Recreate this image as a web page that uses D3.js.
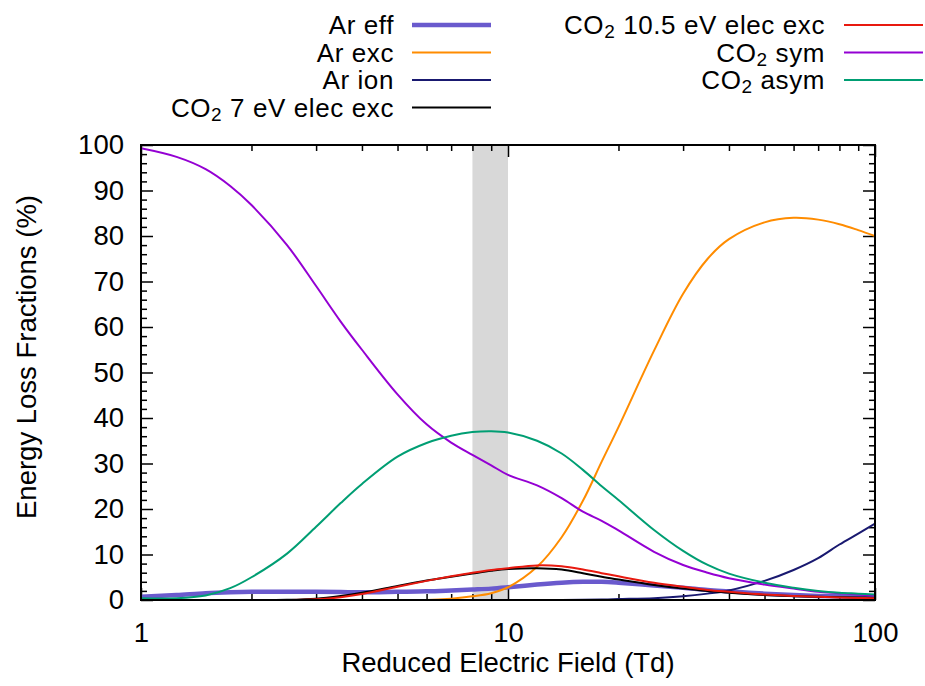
<!DOCTYPE html>
<html>
<head>
<meta charset="utf-8">
<script src="https://cdn.jsdelivr.net/npm/d3@7"></script>
<style>
  body { margin: 0; background: #fff; }
  svg text { font-family: "Liberation Sans", Arial, sans-serif; fill: #000; }
</style>
</head>
<body>
<div id="chart"></div>
<script>
// reduced electric field (Td), shared by every curve
const fieldTd = [1, 1.25, 1.5, 1.75, 2, 2.5, 3, 3.5, 4, 5, 6, 7, 8, 9, 10, 12, 14, 16, 18, 20, 25, 30, 35, 40, 50, 60, 70, 80, 90, 100];

// energy loss fractions (%)
const arEff  = [0.7, 1.1, 1.5, 1.7, 1.8, 1.8, 1.8, 1.75, 1.7, 1.8, 1.9, 2.1, 2.3, 2.5, 2.8, 3.4, 3.8, 4.0, 4.0, 3.8, 3.2, 2.7, 2.2, 1.9, 1.4, 1.1, 0.9, 0.8, 0.7, 0.65];
const arExc  = [0, 0, 0, 0, 0, 0, 0, 0, 0, 0, 0, 0.3, 0.8, 1.5, 2.8, 7.3, 13.8, 21.8, 30.4, 38.0, 54.8, 67.3, 75.0, 79.3, 83.0, 84.0, 83.6, 82.6, 81.3, 80.0];
const arIon  = [0, 0, 0, 0, 0, 0, 0, 0, 0, 0, 0, 0, 0, 0, 0, 0, 0, 0.05, 0.1, 0.2, 0.4, 0.8, 1.4, 2.1, 4.2, 6.6, 9.2, 12.2, 14.6, 16.8];
const co2e7  = [0, 0, 0, 0, 0, 0.05, 0.3, 0.9, 1.6, 3.1, 4.3, 5.1, 5.8, 6.4, 6.8, 7.0, 6.7, 5.9, 5.1, 4.5, 3.3, 2.5, 2.0, 1.6, 1.1, 0.85, 0.7, 0.6, 0.55, 0.5];
const co2e10 = [0, 0, 0, 0, 0, 0, 0.15, 0.6, 1.3, 2.9, 4.2, 5.2, 6.0, 6.6, 7.0, 7.6, 7.4, 6.7, 5.9, 5.2, 3.8, 2.9, 2.2, 1.8, 1.2, 0.9, 0.7, 0.55, 0.45, 0.4];
const co2Sym = [99.3, 97.4, 94.7, 91.0, 86.8, 78.0, 69.0, 61.2, 55.0, 45.2, 38.6, 34.6, 31.9, 29.6, 27.5, 25.2, 22.4, 19.4, 17.4, 15.3, 10.6, 7.7, 6.0, 4.8, 3.4, 2.5, 1.8, 1.5, 1.2, 1.0];
const co2Asym = [0.4, 0.4, 1.0, 2.6, 5.0, 10.2, 16.1, 21.3, 25.5, 31.5, 34.5, 36.1, 36.9, 37.1, 36.8, 35.0, 32.2, 28.6, 25.0, 22.0, 15.4, 10.8, 7.7, 5.8, 3.8, 2.7, 2.0, 1.6, 1.4, 1.2];

const seriesLabels = ["Ar eff", "Ar exc", "Ar ion", "CO_2 7 eV elec exc", "CO_2 10.5 eV elec exc", "CO_2 sym", "CO_2 asym"];
const seriesValues = [arEff, arExc, arIon, co2e7, co2e10, co2Sym, co2Asym];
const seriesColors = ["#6a5acd", "#ff8c00", "#191970", "#000000", "#e8190f", "#9400d3", "#009e73"];
const seriesWidths = [4.5, 2, 2, 2, 2, 2, 2];

// shaded field window (Td)
const bandRange = [8, 10];

const yMajor = d3.range(0, 101, 10);
const yMinor = d3.range(0, 101, 2).filter(v => v % 10 !== 0);
const xMajor = [1, 10, 100];
const xMinor = [2, 3, 4, 5, 6, 7, 8, 9, 20, 30, 40, 50, 60, 70, 80, 90];

const fontSize = 27.5;
const legendFont = 26;
const margin = { top: 145, right: 50, bottom: 86, left: 141 };
const width = 925 - margin.left - margin.right;
const height = 686 - margin.top - margin.bottom;

const root = d3.select("#chart").append("svg")
  .attr("width", 925)
  .attr("height", 686);

const svg = root.append("g")
  .attr("transform", `translate(${margin.left},${margin.top})`);

const x = d3.scaleLog().domain([1, 100]).range([0, width]);
const y = d3.scaleLinear().domain([0, 100]).range([height, 0]);

// gray band
svg.append("rect")
  .attr("x", x(bandRange[0]))
  .attr("y", 0)
  .attr("width", x(bandRange[1]) - x(bandRange[0]))
  .attr("height", height)
  .attr("fill", "#d8d8d8");

// ticks (all pointing inward, mirrored)
function tickGroup(axis, transform) {
  const g = svg.append("g").attr("transform", transform).call(axis);
  g.select(".domain").remove();
  g.selectAll(".tick line").attr("stroke", "#000").attr("stroke-width", 1.5);
  g.selectAll(".tick text").attr("font-size", fontSize).attr("font-family", "Liberation Sans, Arial, sans-serif");
  return g;
}

tickGroup(d3.axisLeft(y).tickValues(yMajor).tickSize(-12).tickPadding(17), "translate(0,0)");
tickGroup(d3.axisLeft(y).tickValues(yMinor).tickSize(-6).tickFormat(""), "translate(0,0)");
tickGroup(d3.axisRight(y).tickValues(yMajor).tickSize(-12).tickFormat(""), `translate(${width},0)`);
tickGroup(d3.axisRight(y).tickValues(yMinor).tickSize(-6).tickFormat(""), `translate(${width},0)`);

tickGroup(d3.axisBottom(x).tickValues(xMajor).tickSize(-12).tickPadding(22).tickFormat(d3.format("d")), `translate(0,${height})`);
tickGroup(d3.axisBottom(x).tickValues(xMinor).tickSize(-6).tickFormat(""), `translate(0,${height})`);
tickGroup(d3.axisTop(x).tickValues(xMajor).tickSize(-12).tickFormat(""), "translate(0,0)");
tickGroup(d3.axisTop(x).tickValues(xMinor).tickSize(-6).tickFormat(""), "translate(0,0)");

// curves
const line = d3.line()
  .x(d => x(d[0]))
  .y(d => y(d[1]))
  .curve(d3.curveCatmullRom.alpha(0.5));

svg.append("clipPath").attr("id", "plot-clip")
  .append("rect").attr("width", width).attr("height", height);

seriesValues.forEach((vals, i) => {
  const pts = fieldTd.map((f, j) => [f, vals[j]]);
  svg.append("path")
    .datum(pts)
    .attr("clip-path", "url(#plot-clip)")
    .attr("fill", "none")
    .attr("stroke", seriesColors[i])
    .attr("stroke-width", seriesWidths[i])
    .attr("stroke-linejoin", "round")
    .attr("d", line);
});

// frame
svg.append("rect")
  .attr("width", width)
  .attr("height", height)
  .attr("fill", "none")
  .attr("stroke", "#000")
  .attr("stroke-width", 2);

// axis titles
svg.append("text")
  .attr("x", width / 2)
  .attr("y", height + 72)
  .attr("text-anchor", "middle")
  .attr("font-size", fontSize)
  .text("Reduced Electric Field (Td)");

root.append("text")
  .attr("transform", "translate(36,357) rotate(-90)")
  .attr("text-anchor", "middle")
  .attr("font-size", fontSize)
  .text("Energy Loss Fractions (%)");

// legend, two columns, text right-aligned before sample line
const legendCols = [
  { textRight: 394, lineX0: 412, lineX1: 491 },
  { textRight: 825, lineX0: 844, lineX1: 923 }
];
const rowY = [25, 52.5, 80, 107.5];

function addLabel(sel, label) {
  const parts = label.split("_2");
  if (parts.length === 1) {
    sel.text(label);
    return;
  }
  sel.append("tspan").text(parts[0]);
  sel.append("tspan").attr("dy", 4).attr("font-size", 19).text("2");
  sel.append("tspan").attr("dy", -4).text(parts[1]);
}

seriesLabels.forEach((label, i) => {
  const col = i < 4 ? legendCols[0] : legendCols[1];
  const ry = i < 4 ? rowY[i] : rowY[i - 4];
  const t = root.append("text")
    .attr("x", col.textRight)
    .attr("y", ry + 9)
    .attr("text-anchor", "end")
    .attr("font-size", legendFont)
    .attr("letter-spacing", 0.6);
  addLabel(t, label);
  root.append("line")
    .attr("x1", col.lineX0)
    .attr("x2", col.lineX1)
    .attr("y1", ry)
    .attr("y2", ry)
    .attr("stroke", seriesColors[i])
    .attr("stroke-width", seriesWidths[i]);
});
</script>
</body>
</html>
